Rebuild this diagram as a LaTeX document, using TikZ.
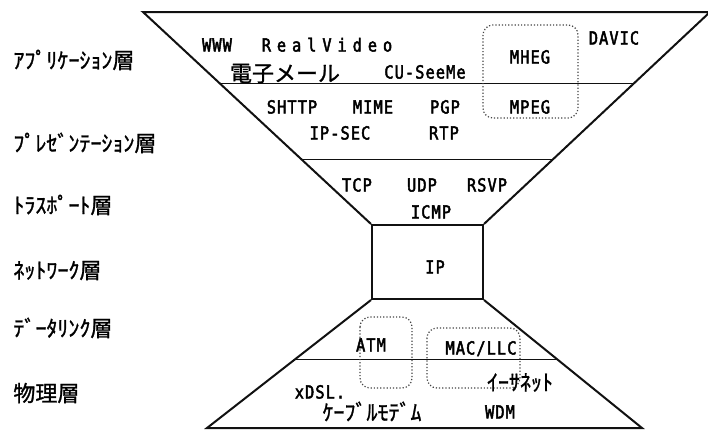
\documentclass[tikz,border=0pt]{standalone}
\usepackage{fontspec}
\setmainfont{Noto Sans CJK JP}
\newfontfamily\jpfont[FakeBold=1.2]{Noto Sans CJK JP}
\newfontfamily\latfont[FakeStretch=0.85,FakeBold=2.5,LetterSpace=6]{DejaVu Sans Mono}
\newfontfamily\latwidefont[FakeStretch=0.85,FakeBold=2.5,LetterSpace=33]{DejaVu Sans Mono}
\usetikzlibrary{calc}
\definecolor{Ink}{HTML}{111111}
\definecolor{Dots}{HTML}{444444}
\tikzset{
  layerline/.style={draw=Ink,line width=1pt,line join=miter},
  divider/.style={draw=Ink,line width=.8pt},
  group/.style={draw=Dots,densely dotted,line width=.6pt,rounded corners=5pt},
  proto/.style={font=\latfont\fontsize{9}{9}\selectfont,inner sep=0pt,text height=6.5pt,text depth=0pt},
  wideproto/.style={proto,font=\latwidefont\fontsize{9}{9}\selectfont},
  jproto/.style={font=\jpfont\fontsize{11}{11}\selectfont,inner sep=0pt,text height=9.7pt,text depth=1.3pt},
  layername/.style={jproto,anchor=west}
}
\begin{document}
\begin{tikzpicture}[x=.5pt,y=-.5pt]
\useasboundingbox (0,0) rectangle (708,430);
\coordinate (tl) at (143,12);
\coordinate (tr) at (710,12);
\coordinate (bl) at (207,428);
\coordinate (br) at (642,428);
\node[draw=Ink,line width=1pt,minimum width=55.5pt,minimum height=37pt,inner sep=0pt] (ipbox) at (427.5,262) {};
\draw[layerline] (ipbox.north west) -- (tl) -- (tr) -- (ipbox.north east);
\draw[layerline] (ipbox.south west) -- (bl) -- (br) -- (ipbox.south east);
\draw[divider] ($(tl)!.338!(ipbox.north west)$) -- ($(tr)!.338!(ipbox.north east)$);
\draw[divider] ($(tl)!.695!(ipbox.north west)$) -- ($(tr)!.695!(ipbox.north east)$);
\draw[divider] ($(ipbox.south west)!.465!(bl)$) -- ($(ipbox.south east)!.465!(br)$);
\draw[group] (483,25) rectangle (578,118);
\draw[group] (360,317) rectangle (412,388);
\draw[group] (427,328) rectangle (520,388);

\node[layername] (app) at (13,60) {ｱﾌﾟﾘｹｰｼｮﾝ層};
\node[layername] (pres) at (13,143) {ﾌﾟﾚｾﾞﾝﾃｰｼｮﾝ層};
\node[layername] (trans) at (13,205) {ﾄﾗｽﾎﾟｰﾄ層};
\node[layername] (net) at (13,270) {ﾈｯﾄﾜｰｸ層};
\node[layername] (link) at (13,328) {ﾃﾞｰﾀﾘﾝｸ層};
\node[layername] (phys) at (13,393) {物理層};

\node[proto] (www) at (217,45) {WWW};
\node[wideproto] (rv) at (327,45) {RealVideo};
\node[proto] (davic) at (614,38) {DAVIC};
\node[proto] (mheg) at (530,57) {MHEG};
\node[jproto] (mail) at (285,73) {電子メール};
\node[proto] (cu) at (425,72) {CU-SeeMe};
\node[proto] (shttp) at (292,107) {SHTTP};
\node[proto] (mime) at (373,107) {MIME};
\node[proto] (pgp) at (445,107) {PGP};
\node[proto] (mpeg) at (530,107) {MPEG};
\node[proto] (ipsec) at (340,133) {IP-SEC};
\node[proto] (rtp) at (444,133) {RTP};
\node[proto] (tcp) at (357,185) {TCP};
\node[proto] (udp) at (422,185) {UDP};
\node[proto] (rsvp) at (487,185) {RSVP};
\node[proto] (icmp) at (431,212) {ICMP};
\node[proto] (ip) at (435,267) {IP};
\node[proto] (atm) at (371,345) {ATM};
\node[proto] (mac) at (481,348) {MAC/LLC};
\node[proto] (xdsl) at (320,392) {xDSL.};
\node[jproto] (ether) at (520,382) {ｲｰｻﾈｯﾄ};
\node[jproto] (cable) at (372,412) {ｹｰﾌﾞﾙﾓﾃﾞﾑ};
\node[proto] (wdm) at (500,412) {WDM};
\end{tikzpicture}
\end{document}
